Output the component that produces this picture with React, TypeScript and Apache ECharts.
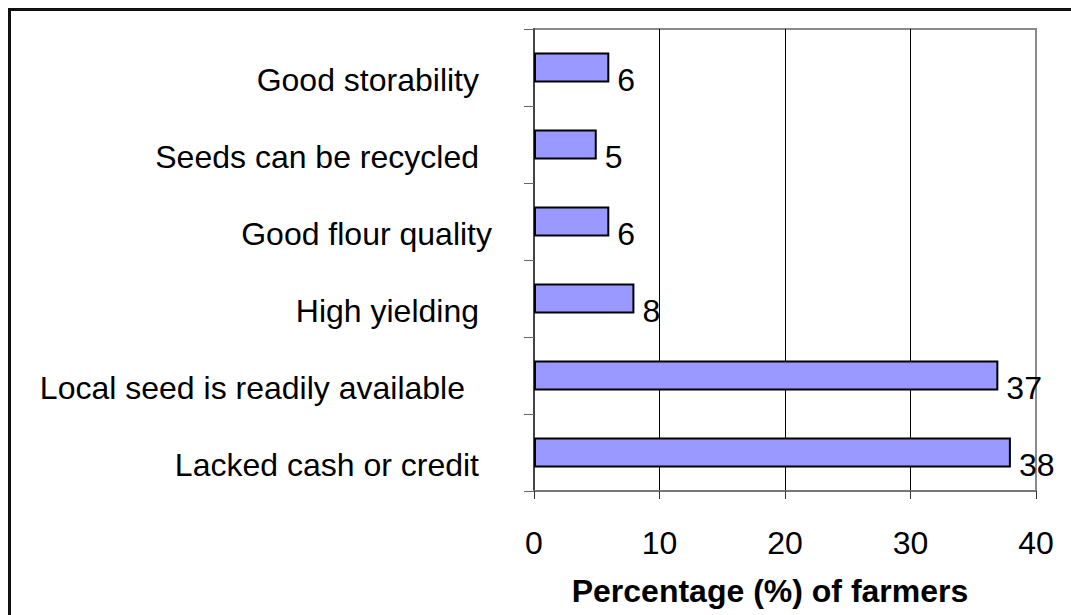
import React, { useEffect, useRef } from "react";
import * as echarts from "echarts";

// Categories from bottom to top (ECharts category axis starts at the bottom)
const categories = [
  "Lacked cash or credit",
  "Local seed is readily available",
  "High yielding",
  "Good flour quality",
  "Seeds can be recycled",
  "Good storability",
];
const percentages = [38, 37, 8, 6, 5, 6];
const xTicks = [0, 10, 20, 30, 40];
const xAxisTitle = "Percentage (%) of farmers";

const FONT = "'Liberation Sans', Arial, Helvetica, sans-serif";
const FS = 32;

export default function App() {
  const ref = useRef<HTMLDivElement>(null);

  useEffect(() => {
    document.body.style.margin = "0";
    if (!ref.current) return;
    const chart = echarts.init(ref.current, undefined, { renderer: "svg" });

    const labelKey = (name: string) =>
      name === "Good flour quality" ? "f" : name.startsWith("Local seed") ? "l" : "n";

    chart.setOption({
      animation: false,
      backgroundColor: "#ffffff",
      textStyle: { fontFamily: FONT },
      grid: {
        left: 534,
        top: 29,
        right: 35,
        bottom: 124,
        show: true,
        borderColor: "#8a8a8a",
        borderWidth: 2,
        backgroundColor: "transparent",
      },
      xAxis: {
        type: "value",
        min: xTicks[0],
        max: xTicks[xTicks.length - 1],
        interval: xTicks[1] - xTicks[0],
        name: xAxisTitle,
        nameLocation: "middle",
        nameGap: 84,
        nameTextStyle: {
          fontFamily: FONT,
          fontSize: FS,
          fontWeight: "bold",
          color: "#000",
          padding: [0, 30, 0, 0],
        },
        axisLine: { show: true, lineStyle: { color: "#777", width: 2 } },
        axisTick: { show: true, length: 8, lineStyle: { color: "#333", width: 1 } },
        axisLabel: {
          margin: 36,
          fontFamily: FONT,
          fontSize: FS,
          color: "#000",
        },
        splitLine: {
          show: true,
          lineStyle: { color: ["#555", "#000", "#000", "#000", "#8a8a8a"], width: 1 },
        },
      },
      yAxis: {
        type: "category",
        data: categories,
        axisLine: { show: true, lineStyle: { color: "#444", width: 2 } },
        axisTick: { show: true, length: 10, lineStyle: { color: "#666", width: 1 } },
        axisLabel: {
          margin: 42,
          fontFamily: FONT,
          fontSize: FS,
          color: "#000",
          padding: [24, 0, 0, 0],
          formatter: (v: string) => `{${labelKey(v)}|${v}}`,
          rich: {
            n: { fontFamily: FONT, fontSize: FS, color: "#000", padding: [0, 13, 0, 0] },
            f: { fontFamily: FONT, fontSize: FS, color: "#000", padding: [0, 0, 0, 0] },
            l: { fontFamily: FONT, fontSize: FS, color: "#000", padding: [0, 27, 0, 0] },
          },
        },
        splitLine: { show: false },
      },
      series: [
        {
          type: "bar",
          data: percentages,
          barWidth: 30,
          itemStyle: { color: "#9999ff", borderColor: "#000", borderWidth: 2 },
          label: {
            show: true,
            position: "right",
            distance: 8,
            offset: [0, 12],
            fontFamily: FONT,
            fontSize: FS,
            color: "#000",
          },
        },
      ],
      graphic: [
        {
          type: "polyline",
          shape: { points: [[9.5, 615], [9.5, 9.5], [1071, 9.5]] },
          style: { stroke: "#111", lineWidth: 3, fill: null },
          silent: true,
        },
      ],
    });

    return () => chart.dispose();
  }, []);

  return <div ref={ref} style={{ width: 1071, height: 615 }} />;
}
